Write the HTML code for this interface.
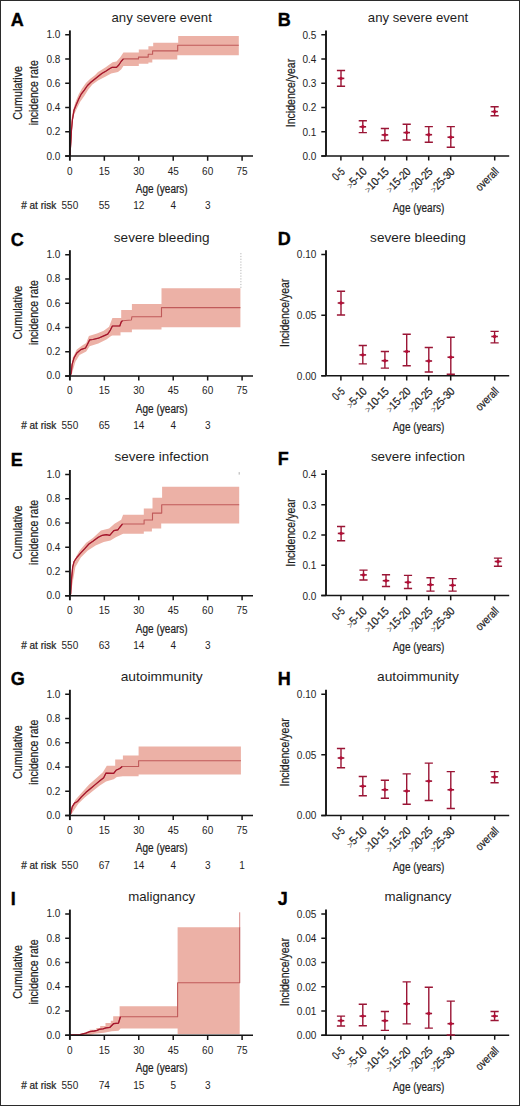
<!DOCTYPE html><html><head><meta charset="utf-8"><style>html,body{margin:0;padding:0;background:#fff;overflow:hidden;width:520px;height:1106px;}svg{display:block;font-family:"Liberation Sans",sans-serif;}.c{stroke:#1e1e1e;stroke-width:0.22px;}</style></head><body>
<svg width="520" height="1106" viewBox="0 0 520 1106">
<rect x="0" y="0" width="520" height="1106" fill="#fff"/>
<g fill="#1e1e1e">
<polygon points="69.9,156.1 70.2,140 71,122 72.9,110.7 75.3,102.5 78.6,94.4 81.8,88.7 85.9,83 90,79 94.9,75.3 98,71.9 100.5,70.5 105.7,67.3 109.5,64.6 112.6,62.3 116.5,61.5 120.3,57.3 123.4,52.5 123.4,52.5 138.8,52.5 138.8,49.4 148.4,49.4 148.4,46.3 153.2,46.3 153.2,42.7 178.2,42.7 178.2,36 238.8,36 238.8,55.2 177.3,55.2 177.3,59.5 152.3,59.5 152.3,62.4 148.4,62.4 148.4,63.8 138.8,63.8 138.8,66 123.4,66 123.4,66 121.1,69.6 118,71.9 111.1,73.5 105.7,76.5 98,80.4 92.4,84.6 88.3,89.5 84.3,96 80.2,101.7 77,108.2 73.7,115.6 72.5,122 71.3,140 69.9,156.1" fill="#ecb1a6"/>
<polyline points="69.9,156.1 70.3,150 70.8,143.2 71.5,130 72.5,119.3 74.1,109.9 76.1,105 78.6,99.3 81,94.4 84.3,90.1 87.5,85.5 90.8,82.3 94.9,79 98,76.5 101.8,73.5 105.7,71.2 109.5,68.8 112.2,67.3 116.5,67.3 118.8,65 121.1,61.5 123.4,58.9 123.4,58.9 138.5,58.9 138.5,57.1 148.2,57.1 148.2,54.3 152.6,54.3 152.6,50.9 177.7,50.9 177.7,45.3 238.8,45.3" fill="none" stroke="#c05a5a" stroke-width="1.1" stroke-linejoin="round"/>
<polyline points="69.9,156.1 70.3,150 70.8,143.2 71.5,130 72.5,119.3 74.1,109.9 76.1,105 78.6,99.3 81,94.4 84.3,90.1 87.5,85.5 90.8,82.3 94.9,79 98,76.5 101.8,73.5 105.7,71.2 109.5,68.8 112.2,67.3 116.5,67.3 118.8,65 121.1,61.5 123.4,58.9 123.4,58.9" fill="none" stroke="#a5152c" stroke-width="1.2" stroke-linejoin="round"/>
<text x="10.8" y="26" font-size="18" font-weight="bold" fill="#000" stroke="#000" stroke-width="0.35">A</text>
<text x="161.7" y="22.3" font-size="13.5" text-anchor="middle" textLength="100.3" lengthAdjust="spacingAndGlyphs">any severe event</text>
<path d="M69.9 30.4V160.7" stroke="#151515" stroke-width="1.9" fill="none"/>
<path d="M65.2 156.1H253" stroke="#151515" stroke-width="1.5" fill="none"/>
<path d="M65.2 156.1H69.9M65.2 131.85H69.9M65.2 107.6H69.9M65.2 83.35H69.9M65.2 59.1H69.9M65.2 34.85H69.9M104.34 156.1V160.7M138.78 156.1V160.7M173.22 156.1V160.7M207.66 156.1V160.7M242.1 156.1V160.7" stroke="#151515" stroke-width="1.5" fill="none"/>
<text x="60.3" y="159.5" font-size="10" text-anchor="end">0.0</text>
<text x="60.3" y="135.25" font-size="10" text-anchor="end">0.2</text>
<text x="60.3" y="111" font-size="10" text-anchor="end">0.4</text>
<text x="60.3" y="86.75" font-size="10" text-anchor="end">0.6</text>
<text x="60.3" y="62.5" font-size="10" text-anchor="end">0.8</text>
<text x="60.3" y="38.25" font-size="10" text-anchor="end">1.0</text>
<text x="69.9" y="174.5" font-size="10" text-anchor="middle">0</text>
<text x="104.34" y="174.5" font-size="10" text-anchor="middle">15</text>
<text x="138.78" y="174.5" font-size="10" text-anchor="middle">30</text>
<text x="173.22" y="174.5" font-size="10" text-anchor="middle">45</text>
<text x="207.66" y="174.5" font-size="10" text-anchor="middle">60</text>
<text x="242.1" y="174.5" font-size="10" text-anchor="middle">75</text>
<text x="161.75" y="192.9" font-size="12" text-anchor="middle" textLength="51.9" lengthAdjust="spacingAndGlyphs" class="c">Age (years)</text>
<text x="21.2" y="209.3" font-size="10" textLength="35" lengthAdjust="spacingAndGlyphs" class="c"># at risk</text>
<text x="69.9" y="209.3" font-size="10" text-anchor="middle">550</text>
<text x="104.34" y="209.3" font-size="10" text-anchor="middle">55</text>
<text x="138.78" y="209.3" font-size="10" text-anchor="middle">12</text>
<text x="173.22" y="209.3" font-size="10" text-anchor="middle">4</text>
<text x="207.66" y="209.3" font-size="10" text-anchor="middle">3</text>
<text transform="translate(21.9 92.8) rotate(-90)" class="c" font-size="12" text-anchor="middle" textLength="53.7" lengthAdjust="spacingAndGlyphs">Cumulative</text>
<text transform="translate(38.3 92.8) rotate(-90)" class="c" font-size="12" text-anchor="middle" textLength="65" lengthAdjust="spacingAndGlyphs">incidence rate</text>
<text x="277.8" y="25.6" font-size="18" font-weight="bold" fill="#000" stroke="#000" stroke-width="0.35">B</text>
<text x="418" y="22.3" font-size="13.5" text-anchor="middle" textLength="100.3" lengthAdjust="spacingAndGlyphs">any severe event</text>
<path d="M326 30.4V156" stroke="#151515" stroke-width="1.9" fill="none"/>
<path d="M321.3 156H509.2" stroke="#151515" stroke-width="1.5" fill="none"/>
<path d="M321.3 156H326M321.3 131.75H326M321.3 107.5H326M321.3 83.25H326M321.3 59H326M321.3 34.75H326M340.9 156V160.6M362.8 156V160.6M384.8 156V160.6M406.7 156V160.6M428.7 156V160.6M450.7 156V160.6M494.7 156V160.6" stroke="#151515" stroke-width="1.5" fill="none"/>
<text x="316.3" y="159.9" font-size="10" text-anchor="end">0.0</text>
<text x="316.3" y="135.65" font-size="10" text-anchor="end">0.1</text>
<text x="316.3" y="111.4" font-size="10" text-anchor="end">0.2</text>
<text x="316.3" y="87.15" font-size="10" text-anchor="end">0.3</text>
<text x="316.3" y="62.9" font-size="10" text-anchor="end">0.4</text>
<text x="316.3" y="38.65" font-size="10" text-anchor="end">0.5</text>
<text transform="translate(345.7 172.3) rotate(-45)" class="c" font-size="11.5" text-anchor="end" textLength="12.5" lengthAdjust="spacingAndGlyphs">0-5</text>
<text transform="translate(367.6 172.3) rotate(-45)" class="c" font-size="11.5" text-anchor="end" textLength="24" lengthAdjust="spacingAndGlyphs"><tspan font-size="9.5" fill="#555" stroke="none">&gt;</tspan>5-10</text>
<text transform="translate(389.6 172.3) rotate(-45)" class="c" font-size="11.5" text-anchor="end" textLength="30" lengthAdjust="spacingAndGlyphs"><tspan font-size="9.5" fill="#555" stroke="none">&gt;</tspan>10-15</text>
<text transform="translate(411.5 172.3) rotate(-45)" class="c" font-size="11.5" text-anchor="end" textLength="30" lengthAdjust="spacingAndGlyphs"><tspan font-size="9.5" fill="#555" stroke="none">&gt;</tspan>15-20</text>
<text transform="translate(433.5 172.3) rotate(-45)" class="c" font-size="11.5" text-anchor="end" textLength="30" lengthAdjust="spacingAndGlyphs"><tspan font-size="9.5" fill="#555" stroke="none">&gt;</tspan>20-25</text>
<text transform="translate(455.5 172.3) rotate(-45)" class="c" font-size="11.5" text-anchor="end" textLength="30" lengthAdjust="spacingAndGlyphs"><tspan font-size="9.5" fill="#555" stroke="none">&gt;</tspan>25-30</text>
<text transform="translate(499.5 172.3) rotate(-45)" class="c" font-size="11.5" text-anchor="end" textLength="27.5" lengthAdjust="spacingAndGlyphs">overall</text>
<text x="418.5" y="211.6" font-size="12" text-anchor="middle" textLength="51.7" lengthAdjust="spacingAndGlyphs" class="c">Age (years)</text>
<text transform="translate(294.6 93) rotate(-90)" class="c" font-size="12" text-anchor="middle" textLength="68.3" lengthAdjust="spacingAndGlyphs">Incidence/year</text>
<path d="M341 70.5V86.2M336.9 70.5H345.1M336.9 86.2H345.1" stroke="#9a1535" stroke-width="1.4" fill="none"/>
<path d="M337.7 78.4H344.3" stroke="#9a1535" stroke-width="1.6" fill="none"/>
<circle cx="341" cy="78.4" r="1.7" fill="#b50d36"/>
<path d="M362.8 120.8V132.6M358.7 120.8H366.9M358.7 132.6H366.9" stroke="#9a1535" stroke-width="1.4" fill="none"/>
<path d="M359.5 126.8H366.1" stroke="#9a1535" stroke-width="1.6" fill="none"/>
<circle cx="362.8" cy="126.8" r="1.7" fill="#b50d36"/>
<path d="M384.9 128.5V140.5M380.8 128.5H389M380.8 140.5H389" stroke="#9a1535" stroke-width="1.4" fill="none"/>
<path d="M381.6 134.9H388.2" stroke="#9a1535" stroke-width="1.6" fill="none"/>
<circle cx="384.9" cy="134.9" r="1.7" fill="#b50d36"/>
<path d="M406.7 124.3V140M402.6 124.3H410.8M402.6 140H410.8" stroke="#9a1535" stroke-width="1.4" fill="none"/>
<path d="M403.4 132.6H410" stroke="#9a1535" stroke-width="1.6" fill="none"/>
<circle cx="406.7" cy="132.6" r="1.7" fill="#b50d36"/>
<path d="M428.8 126.6V142.3M424.7 126.6H432.9M424.7 142.3H432.9" stroke="#9a1535" stroke-width="1.4" fill="none"/>
<path d="M425.5 134.7H432.1" stroke="#9a1535" stroke-width="1.6" fill="none"/>
<circle cx="428.8" cy="134.7" r="1.7" fill="#b50d36"/>
<path d="M450.8 126.6V147.2M446.7 126.6H454.9M446.7 147.2H454.9" stroke="#9a1535" stroke-width="1.4" fill="none"/>
<path d="M447.5 137.2H454.1" stroke="#9a1535" stroke-width="1.6" fill="none"/>
<circle cx="450.8" cy="137.2" r="1.7" fill="#b50d36"/>
<path d="M494.6 106.8V115.8M490.5 106.8H498.7M490.5 115.8H498.7" stroke="#9a1535" stroke-width="1.4" fill="none"/>
<path d="M491.3 111.6H497.9" stroke="#9a1535" stroke-width="1.6" fill="none"/>
<circle cx="494.6" cy="111.6" r="1.7" fill="#b50d36"/>
<path d="M240.9 253.1V288.2" stroke="#b5b5b5" stroke-width="1" stroke-dasharray="1.2 1.6" fill="none"/>
<polygon points="69.9,375.9 71.1,370.5 72.7,357.7 76.8,349.6 82.2,345.6 86.2,342.9 88.9,336.1 97,333.4 103.7,330.8 109.1,326.7 112.4,318 112.4,318 121.2,318 121.2,309.9 131.9,309.9 131.9,304.1 161.5,304.1 161.5,288.2 240.4,288.2 240.4,327.2 161.5,327.2 161.5,329.4 131.9,329.4 131.9,332.3 120.5,332.3 120.5,335.6 112.4,335.6 112.4,335.6 111.1,336.1 106.4,339.5 98.3,343.5 89.6,346.2 86.2,351.6 79.5,355 75.4,361.7 72.1,373 69.9,375.9" fill="#ecb1a6"/>
<polyline points="69.9,375.9 71.1,373.8 72.1,364.4 74.1,357.7 76.8,353 80.8,349.6 85.5,348 87.5,344.2 89.6,339.9 92.9,339.5 98.3,338.2 103.7,335.9 107.7,334.1 110.4,330.1 112.4,326 119.8,326 121.2,322 122.5,320.7 131.4,320 131.9,316.7 131.9,316.7 161.5,316.7 161.5,307.6 240.4,307.6" fill="none" stroke="#c05a5a" stroke-width="1.1" stroke-linejoin="round"/>
<polyline points="69.9,375.9 71.1,373.8 72.1,364.4 74.1,357.7 76.8,353 80.8,349.6 85.5,348 87.5,344.2 89.6,339.9 92.9,339.5 98.3,338.2 103.7,335.9 107.7,334.1 110.4,330.1 112.4,326 119.8,326 121.2,322 122.5,320.7" fill="none" stroke="#a5152c" stroke-width="1.2" stroke-linejoin="round"/>
<text x="10.8" y="245.8" font-size="18" font-weight="bold" fill="#000" stroke="#000" stroke-width="0.35">C</text>
<text x="161.7" y="241.85" font-size="13.5" text-anchor="middle" textLength="95.8" lengthAdjust="spacingAndGlyphs">severe bleeding</text>
<path d="M69.9 250.2V380.5" stroke="#151515" stroke-width="1.9" fill="none"/>
<path d="M65.2 375.9H253" stroke="#151515" stroke-width="1.5" fill="none"/>
<path d="M65.2 375.9H69.9M65.2 351.65H69.9M65.2 327.4H69.9M65.2 303.15H69.9M65.2 278.9H69.9M65.2 254.65H69.9M104.34 375.9V380.5M138.78 375.9V380.5M173.22 375.9V380.5M207.66 375.9V380.5M242.1 375.9V380.5" stroke="#151515" stroke-width="1.5" fill="none"/>
<text x="60.3" y="379.3" font-size="10" text-anchor="end">0.0</text>
<text x="60.3" y="355.05" font-size="10" text-anchor="end">0.2</text>
<text x="60.3" y="330.8" font-size="10" text-anchor="end">0.4</text>
<text x="60.3" y="306.55" font-size="10" text-anchor="end">0.6</text>
<text x="60.3" y="282.3" font-size="10" text-anchor="end">0.8</text>
<text x="60.3" y="258.05" font-size="10" text-anchor="end">1.0</text>
<text x="69.9" y="394.3" font-size="10" text-anchor="middle">0</text>
<text x="104.34" y="394.3" font-size="10" text-anchor="middle">15</text>
<text x="138.78" y="394.3" font-size="10" text-anchor="middle">30</text>
<text x="173.22" y="394.3" font-size="10" text-anchor="middle">45</text>
<text x="207.66" y="394.3" font-size="10" text-anchor="middle">60</text>
<text x="242.1" y="394.3" font-size="10" text-anchor="middle">75</text>
<text x="161.75" y="412.7" font-size="12" text-anchor="middle" textLength="51.9" lengthAdjust="spacingAndGlyphs" class="c">Age (years)</text>
<text x="21.2" y="429.1" font-size="10" textLength="35" lengthAdjust="spacingAndGlyphs" class="c"># at risk</text>
<text x="69.9" y="429.1" font-size="10" text-anchor="middle">550</text>
<text x="104.34" y="429.1" font-size="10" text-anchor="middle">65</text>
<text x="138.78" y="429.1" font-size="10" text-anchor="middle">14</text>
<text x="173.22" y="429.1" font-size="10" text-anchor="middle">4</text>
<text x="207.66" y="429.1" font-size="10" text-anchor="middle">3</text>
<text transform="translate(21.9 312.6) rotate(-90)" class="c" font-size="12" text-anchor="middle" textLength="53.7" lengthAdjust="spacingAndGlyphs">Cumulative</text>
<text transform="translate(38.3 312.6) rotate(-90)" class="c" font-size="12" text-anchor="middle" textLength="65" lengthAdjust="spacingAndGlyphs">incidence rate</text>
<text x="277.8" y="245.4" font-size="18" font-weight="bold" fill="#000" stroke="#000" stroke-width="0.35">D</text>
<text x="418" y="241.85" font-size="13.5" text-anchor="middle" textLength="95.8" lengthAdjust="spacingAndGlyphs">severe bleeding</text>
<path d="M326 250.2V375.8" stroke="#151515" stroke-width="1.9" fill="none"/>
<path d="M321.3 375.8H509.2" stroke="#151515" stroke-width="1.5" fill="none"/>
<path d="M321.3 375.8H326M321.3 315.17H326M321.3 254.55H326M340.9 375.8V380.4M362.8 375.8V380.4M384.8 375.8V380.4M406.7 375.8V380.4M428.7 375.8V380.4M450.7 375.8V380.4M494.7 375.8V380.4" stroke="#151515" stroke-width="1.5" fill="none"/>
<text x="316.3" y="379.7" font-size="10" text-anchor="end">0.00</text>
<text x="316.3" y="319.07" font-size="10" text-anchor="end">0.05</text>
<text x="316.3" y="258.45" font-size="10" text-anchor="end">0.10</text>
<text transform="translate(345.7 392.1) rotate(-45)" class="c" font-size="11.5" text-anchor="end" textLength="12.5" lengthAdjust="spacingAndGlyphs">0-5</text>
<text transform="translate(367.6 392.1) rotate(-45)" class="c" font-size="11.5" text-anchor="end" textLength="24" lengthAdjust="spacingAndGlyphs"><tspan font-size="9.5" fill="#555" stroke="none">&gt;</tspan>5-10</text>
<text transform="translate(389.6 392.1) rotate(-45)" class="c" font-size="11.5" text-anchor="end" textLength="30" lengthAdjust="spacingAndGlyphs"><tspan font-size="9.5" fill="#555" stroke="none">&gt;</tspan>10-15</text>
<text transform="translate(411.5 392.1) rotate(-45)" class="c" font-size="11.5" text-anchor="end" textLength="30" lengthAdjust="spacingAndGlyphs"><tspan font-size="9.5" fill="#555" stroke="none">&gt;</tspan>15-20</text>
<text transform="translate(433.5 392.1) rotate(-45)" class="c" font-size="11.5" text-anchor="end" textLength="30" lengthAdjust="spacingAndGlyphs"><tspan font-size="9.5" fill="#555" stroke="none">&gt;</tspan>20-25</text>
<text transform="translate(455.5 392.1) rotate(-45)" class="c" font-size="11.5" text-anchor="end" textLength="30" lengthAdjust="spacingAndGlyphs"><tspan font-size="9.5" fill="#555" stroke="none">&gt;</tspan>25-30</text>
<text transform="translate(499.5 392.1) rotate(-45)" class="c" font-size="11.5" text-anchor="end" textLength="27.5" lengthAdjust="spacingAndGlyphs">overall</text>
<text x="418.5" y="431.4" font-size="12" text-anchor="middle" textLength="51.7" lengthAdjust="spacingAndGlyphs" class="c">Age (years)</text>
<text transform="translate(288.6 312.8) rotate(-90)" class="c" font-size="12" text-anchor="middle" textLength="68.3" lengthAdjust="spacingAndGlyphs">Incidence/year</text>
<path d="M341 291.2V315M336.9 291.2H345.1M336.9 315H345.1" stroke="#9a1535" stroke-width="1.4" fill="none"/>
<path d="M337.7 303H344.3" stroke="#9a1535" stroke-width="1.6" fill="none"/>
<circle cx="341" cy="303" r="1.7" fill="#b50d36"/>
<path d="M362.8 345.5V363.9M358.7 345.5H366.9M358.7 363.9H366.9" stroke="#9a1535" stroke-width="1.4" fill="none"/>
<path d="M359.5 354.9H366.1" stroke="#9a1535" stroke-width="1.6" fill="none"/>
<circle cx="362.8" cy="354.9" r="1.7" fill="#b50d36"/>
<path d="M384.9 351.5V368.1M380.8 351.5H389M380.8 368.1H389" stroke="#9a1535" stroke-width="1.4" fill="none"/>
<path d="M381.6 360.7H388.2" stroke="#9a1535" stroke-width="1.6" fill="none"/>
<circle cx="384.9" cy="360.7" r="1.7" fill="#b50d36"/>
<path d="M406.7 334.2V365.8M402.6 334.2H410.8M402.6 365.8H410.8" stroke="#9a1535" stroke-width="1.4" fill="none"/>
<path d="M403.4 351.5H410" stroke="#9a1535" stroke-width="1.6" fill="none"/>
<circle cx="406.7" cy="351.5" r="1.7" fill="#b50d36"/>
<path d="M428.8 347.5V372M424.7 347.5H432.9M424.7 372H432.9" stroke="#9a1535" stroke-width="1.4" fill="none"/>
<path d="M425.5 361H432.1" stroke="#9a1535" stroke-width="1.6" fill="none"/>
<circle cx="428.8" cy="361" r="1.7" fill="#b50d36"/>
<path d="M450.8 337.2V374.3M446.7 337.2H454.9M446.7 374.3H454.9" stroke="#9a1535" stroke-width="1.4" fill="none"/>
<path d="M447.5 357.2H454.1" stroke="#9a1535" stroke-width="1.6" fill="none"/>
<circle cx="450.8" cy="357.2" r="1.7" fill="#b50d36"/>
<path d="M494.6 331.4V342.9M490.5 331.4H498.7M490.5 342.9H498.7" stroke="#9a1535" stroke-width="1.4" fill="none"/>
<path d="M491.3 336.5H497.9" stroke="#9a1535" stroke-width="1.6" fill="none"/>
<circle cx="494.6" cy="336.5" r="1.7" fill="#b50d36"/>
<path d="M239.2 472.1V474.6" stroke="#999" stroke-width="0.8" fill="none"/>
<polygon points="69.9,595.7 70.6,587.6 71.4,575 74.1,560.2 79.5,550.7 86.2,542.7 92.9,538 101,530.6 109.1,528.5 114.5,523.8 121.2,519.8 123.1,514.8 123.1,514.8 143.8,514.8 143.8,508.4 152.5,508.4 152.5,497.8 162.1,497.8 162.1,486.8 239.2,486.8 239.2,523.4 161.2,523.4 161.2,528.6 151.9,528.6 151.9,531.5 143.8,531.5 143.8,533.8 123.1,533.8 123.1,533.8 115.8,537.3 110.4,540.6 103.7,542 95.6,545.4 87.5,550.7 80.8,557.5 75.4,566.9 72.1,585.7 69.9,595.7" fill="#ecb1a6"/>
<polyline points="69.9,595.7 70.7,593.8 71.4,580.4 72.7,566.9 74.1,561.5 76.8,557.5 80.8,552.8 84.8,548.7 88.9,544 92.9,541.3 98.3,537.3 102.3,535.3 106.4,534.6 109.7,535.3 113.8,530.6 117.8,529.9 119.6,527.5 122.5,524 122.5,524 144.1,524 144.1,520 152.5,520 152.5,513.1 161.7,513.1 161.7,504.8 239.2,504.8" fill="none" stroke="#c05a5a" stroke-width="1.1" stroke-linejoin="round"/>
<polyline points="69.9,595.7 70.7,593.8 71.4,580.4 72.7,566.9 74.1,561.5 76.8,557.5 80.8,552.8 84.8,548.7 88.9,544 92.9,541.3 98.3,537.3 102.3,535.3 106.4,534.6 109.7,535.3 113.8,530.6 117.8,529.9 119.6,527.5 122.5,524 122.5,524" fill="none" stroke="#a5152c" stroke-width="1.2" stroke-linejoin="round"/>
<text x="10.8" y="465.6" font-size="18" font-weight="bold" fill="#000" stroke="#000" stroke-width="0.35">E</text>
<text x="161.7" y="461.4" font-size="13.5" text-anchor="middle" textLength="94.2" lengthAdjust="spacingAndGlyphs">severe infection</text>
<path d="M69.9 470V600.3" stroke="#151515" stroke-width="1.9" fill="none"/>
<path d="M65.2 595.7H253" stroke="#151515" stroke-width="1.5" fill="none"/>
<path d="M65.2 595.7H69.9M65.2 571.45H69.9M65.2 547.2H69.9M65.2 522.95H69.9M65.2 498.7H69.9M65.2 474.45H69.9M104.34 595.7V600.3M138.78 595.7V600.3M173.22 595.7V600.3M207.66 595.7V600.3M242.1 595.7V600.3" stroke="#151515" stroke-width="1.5" fill="none"/>
<text x="60.3" y="599.1" font-size="10" text-anchor="end">0.0</text>
<text x="60.3" y="574.85" font-size="10" text-anchor="end">0.2</text>
<text x="60.3" y="550.6" font-size="10" text-anchor="end">0.4</text>
<text x="60.3" y="526.35" font-size="10" text-anchor="end">0.6</text>
<text x="60.3" y="502.1" font-size="10" text-anchor="end">0.8</text>
<text x="60.3" y="477.85" font-size="10" text-anchor="end">1.0</text>
<text x="69.9" y="614.1" font-size="10" text-anchor="middle">0</text>
<text x="104.34" y="614.1" font-size="10" text-anchor="middle">15</text>
<text x="138.78" y="614.1" font-size="10" text-anchor="middle">30</text>
<text x="173.22" y="614.1" font-size="10" text-anchor="middle">45</text>
<text x="207.66" y="614.1" font-size="10" text-anchor="middle">60</text>
<text x="242.1" y="614.1" font-size="10" text-anchor="middle">75</text>
<text x="161.75" y="632.5" font-size="12" text-anchor="middle" textLength="51.9" lengthAdjust="spacingAndGlyphs" class="c">Age (years)</text>
<text x="21.2" y="648.9" font-size="10" textLength="35" lengthAdjust="spacingAndGlyphs" class="c"># at risk</text>
<text x="69.9" y="648.9" font-size="10" text-anchor="middle">550</text>
<text x="104.34" y="648.9" font-size="10" text-anchor="middle">63</text>
<text x="138.78" y="648.9" font-size="10" text-anchor="middle">14</text>
<text x="173.22" y="648.9" font-size="10" text-anchor="middle">4</text>
<text x="207.66" y="648.9" font-size="10" text-anchor="middle">3</text>
<text transform="translate(21.9 532.4) rotate(-90)" class="c" font-size="12" text-anchor="middle" textLength="53.7" lengthAdjust="spacingAndGlyphs">Cumulative</text>
<text transform="translate(38.3 532.4) rotate(-90)" class="c" font-size="12" text-anchor="middle" textLength="65" lengthAdjust="spacingAndGlyphs">incidence rate</text>
<text x="277.8" y="465.2" font-size="18" font-weight="bold" fill="#000" stroke="#000" stroke-width="0.35">F</text>
<text x="418" y="461.4" font-size="13.5" text-anchor="middle" textLength="94.2" lengthAdjust="spacingAndGlyphs">severe infection</text>
<path d="M326 470V595.6" stroke="#151515" stroke-width="1.9" fill="none"/>
<path d="M321.3 595.6H509.2" stroke="#151515" stroke-width="1.5" fill="none"/>
<path d="M321.3 595.6H326M321.3 565.29H326M321.3 534.98H326M321.3 504.66H326M321.3 474.35H326M340.9 595.6V600.2M362.8 595.6V600.2M384.8 595.6V600.2M406.7 595.6V600.2M428.7 595.6V600.2M450.7 595.6V600.2M494.7 595.6V600.2" stroke="#151515" stroke-width="1.5" fill="none"/>
<text x="316.3" y="599.5" font-size="10" text-anchor="end">0.0</text>
<text x="316.3" y="569.19" font-size="10" text-anchor="end">0.1</text>
<text x="316.3" y="538.88" font-size="10" text-anchor="end">0.2</text>
<text x="316.3" y="508.56" font-size="10" text-anchor="end">0.3</text>
<text x="316.3" y="478.25" font-size="10" text-anchor="end">0.4</text>
<text transform="translate(345.7 611.9) rotate(-45)" class="c" font-size="11.5" text-anchor="end" textLength="12.5" lengthAdjust="spacingAndGlyphs">0-5</text>
<text transform="translate(367.6 611.9) rotate(-45)" class="c" font-size="11.5" text-anchor="end" textLength="24" lengthAdjust="spacingAndGlyphs"><tspan font-size="9.5" fill="#555" stroke="none">&gt;</tspan>5-10</text>
<text transform="translate(389.6 611.9) rotate(-45)" class="c" font-size="11.5" text-anchor="end" textLength="30" lengthAdjust="spacingAndGlyphs"><tspan font-size="9.5" fill="#555" stroke="none">&gt;</tspan>10-15</text>
<text transform="translate(411.5 611.9) rotate(-45)" class="c" font-size="11.5" text-anchor="end" textLength="30" lengthAdjust="spacingAndGlyphs"><tspan font-size="9.5" fill="#555" stroke="none">&gt;</tspan>15-20</text>
<text transform="translate(433.5 611.9) rotate(-45)" class="c" font-size="11.5" text-anchor="end" textLength="30" lengthAdjust="spacingAndGlyphs"><tspan font-size="9.5" fill="#555" stroke="none">&gt;</tspan>20-25</text>
<text transform="translate(455.5 611.9) rotate(-45)" class="c" font-size="11.5" text-anchor="end" textLength="30" lengthAdjust="spacingAndGlyphs"><tspan font-size="9.5" fill="#555" stroke="none">&gt;</tspan>25-30</text>
<text transform="translate(499.5 611.9) rotate(-45)" class="c" font-size="11.5" text-anchor="end" textLength="27.5" lengthAdjust="spacingAndGlyphs">overall</text>
<text x="418.5" y="651.2" font-size="12" text-anchor="middle" textLength="51.7" lengthAdjust="spacingAndGlyphs" class="c">Age (years)</text>
<text transform="translate(294.6 532.6) rotate(-90)" class="c" font-size="12" text-anchor="middle" textLength="68.3" lengthAdjust="spacingAndGlyphs">Incidence/year</text>
<path d="M341.1 526.5V540.8M337 526.5H345.2M337 540.8H345.2" stroke="#9a1535" stroke-width="1.4" fill="none"/>
<path d="M337.8 533.4H344.4" stroke="#9a1535" stroke-width="1.6" fill="none"/>
<circle cx="341.1" cy="533.4" r="1.7" fill="#b50d36"/>
<path d="M363.5 570.1V580M359.4 570.1H367.6M359.4 580H367.6" stroke="#9a1535" stroke-width="1.4" fill="none"/>
<path d="M360.2 574.9H366.8" stroke="#9a1535" stroke-width="1.6" fill="none"/>
<circle cx="363.5" cy="574.9" r="1.7" fill="#b50d36"/>
<path d="M386 574.7V586.5M381.9 574.7H390.1M381.9 586.5H390.1" stroke="#9a1535" stroke-width="1.4" fill="none"/>
<path d="M382.7 580.7H389.3" stroke="#9a1535" stroke-width="1.6" fill="none"/>
<circle cx="386" cy="580.7" r="1.7" fill="#b50d36"/>
<path d="M408 575.4V588.5M403.9 575.4H412.1M403.9 588.5H412.1" stroke="#9a1535" stroke-width="1.4" fill="none"/>
<path d="M404.7 582.3H411.3" stroke="#9a1535" stroke-width="1.6" fill="none"/>
<circle cx="408" cy="582.3" r="1.7" fill="#b50d36"/>
<path d="M430.5 577.7V591.1M426.4 577.7H434.6M426.4 591.1H434.6" stroke="#9a1535" stroke-width="1.4" fill="none"/>
<path d="M427.2 584.8H433.8" stroke="#9a1535" stroke-width="1.6" fill="none"/>
<circle cx="430.5" cy="584.8" r="1.7" fill="#b50d36"/>
<path d="M452.6 578.6V591.1M448.5 578.6H456.7M448.5 591.1H456.7" stroke="#9a1535" stroke-width="1.4" fill="none"/>
<path d="M449.3 585.3H455.9" stroke="#9a1535" stroke-width="1.6" fill="none"/>
<circle cx="452.6" cy="585.3" r="1.7" fill="#b50d36"/>
<path d="M498 558.1V566.2M493.9 558.1H502.1M493.9 566.2H502.1" stroke="#9a1535" stroke-width="1.4" fill="none"/>
<path d="M494.7 561.5H501.3" stroke="#9a1535" stroke-width="1.6" fill="none"/>
<circle cx="498" cy="561.5" r="1.7" fill="#b50d36"/>
<polygon points="69.9,815.5 70.6,810 75.2,800 81.4,793.1 89.1,784.6 96.8,777.7 102.9,772.3 106.8,765.7 106.8,765.7 115.2,765.7 115.2,759.5 122.9,759.5 122.9,755.4 138.6,755.4 138.6,746.6 240.9,746.6 240.9,774.5 138.6,774.5 138.6,776.2 122.9,776.2 122.9,776.2 116.8,776.9 113.7,779.2 106,781.5 99.8,785.4 92.2,791.5 84.5,797.7 78.3,803.8 72.2,813.1 69.9,815.5" fill="#ecb1a6"/>
<polyline points="69.9,815.5 70.6,813.8 72.2,806.9 74.5,803.1 77.5,801.5 81.4,796.9 86,792.3 90.6,788.5 95.2,784.6 99.8,780.8 103.7,777.7 106,773.1 113.7,773.4 116,770.3 119.8,768.5 122.2,766.5 122.2,766.5 138.6,766.5 138.6,760.7 240.9,760.7" fill="none" stroke="#c05a5a" stroke-width="1.1" stroke-linejoin="round"/>
<polyline points="69.9,815.5 70.6,813.8 72.2,806.9 74.5,803.1 77.5,801.5 81.4,796.9 86,792.3 90.6,788.5 95.2,784.6 99.8,780.8 103.7,777.7 106,773.1 113.7,773.4 116,770.3 119.8,768.5 122.2,766.5 122.2,766.5" fill="none" stroke="#a5152c" stroke-width="1.2" stroke-linejoin="round"/>
<text x="10.8" y="685.4" font-size="18" font-weight="bold" fill="#000" stroke="#000" stroke-width="0.35">G</text>
<text x="161.7" y="680.95" font-size="13.5" text-anchor="middle" textLength="82" lengthAdjust="spacingAndGlyphs">autoimmunity</text>
<path d="M69.9 689.8V820.1" stroke="#151515" stroke-width="1.9" fill="none"/>
<path d="M65.2 815.5H253" stroke="#151515" stroke-width="1.5" fill="none"/>
<path d="M65.2 815.5H69.9M65.2 791.25H69.9M65.2 767H69.9M65.2 742.75H69.9M65.2 718.5H69.9M65.2 694.25H69.9M104.34 815.5V820.1M138.78 815.5V820.1M173.22 815.5V820.1M207.66 815.5V820.1M242.1 815.5V820.1" stroke="#151515" stroke-width="1.5" fill="none"/>
<text x="60.3" y="818.9" font-size="10" text-anchor="end">0.0</text>
<text x="60.3" y="794.65" font-size="10" text-anchor="end">0.2</text>
<text x="60.3" y="770.4" font-size="10" text-anchor="end">0.4</text>
<text x="60.3" y="746.15" font-size="10" text-anchor="end">0.6</text>
<text x="60.3" y="721.9" font-size="10" text-anchor="end">0.8</text>
<text x="60.3" y="697.65" font-size="10" text-anchor="end">1.0</text>
<text x="69.9" y="833.9" font-size="10" text-anchor="middle">0</text>
<text x="104.34" y="833.9" font-size="10" text-anchor="middle">15</text>
<text x="138.78" y="833.9" font-size="10" text-anchor="middle">30</text>
<text x="173.22" y="833.9" font-size="10" text-anchor="middle">45</text>
<text x="207.66" y="833.9" font-size="10" text-anchor="middle">60</text>
<text x="242.1" y="833.9" font-size="10" text-anchor="middle">75</text>
<text x="161.75" y="852.3" font-size="12" text-anchor="middle" textLength="51.9" lengthAdjust="spacingAndGlyphs" class="c">Age (years)</text>
<text x="21.2" y="868.7" font-size="10" textLength="35" lengthAdjust="spacingAndGlyphs" class="c"># at risk</text>
<text x="69.9" y="868.7" font-size="10" text-anchor="middle">550</text>
<text x="104.34" y="868.7" font-size="10" text-anchor="middle">67</text>
<text x="138.78" y="868.7" font-size="10" text-anchor="middle">14</text>
<text x="173.22" y="868.7" font-size="10" text-anchor="middle">4</text>
<text x="207.66" y="868.7" font-size="10" text-anchor="middle">3</text>
<text x="242.1" y="868.7" font-size="10" text-anchor="middle">1</text>
<text transform="translate(21.9 752.2) rotate(-90)" class="c" font-size="12" text-anchor="middle" textLength="53.7" lengthAdjust="spacingAndGlyphs">Cumulative</text>
<text transform="translate(38.3 752.2) rotate(-90)" class="c" font-size="12" text-anchor="middle" textLength="65" lengthAdjust="spacingAndGlyphs">incidence rate</text>
<text x="277.8" y="685" font-size="18" font-weight="bold" fill="#000" stroke="#000" stroke-width="0.35">H</text>
<text x="418" y="680.95" font-size="13.5" text-anchor="middle" textLength="82" lengthAdjust="spacingAndGlyphs">autoimmunity</text>
<path d="M326 689.8V815.4" stroke="#151515" stroke-width="1.9" fill="none"/>
<path d="M321.3 815.4H509.2" stroke="#151515" stroke-width="1.5" fill="none"/>
<path d="M321.3 815.4H326M321.3 754.78H326M321.3 694.15H326M340.9 815.4V820M362.8 815.4V820M384.8 815.4V820M406.7 815.4V820M428.7 815.4V820M450.7 815.4V820M494.7 815.4V820" stroke="#151515" stroke-width="1.5" fill="none"/>
<text x="316.3" y="819.3" font-size="10" text-anchor="end">0.00</text>
<text x="316.3" y="758.68" font-size="10" text-anchor="end">0.05</text>
<text x="316.3" y="698.05" font-size="10" text-anchor="end">0.10</text>
<text transform="translate(345.7 831.7) rotate(-45)" class="c" font-size="11.5" text-anchor="end" textLength="12.5" lengthAdjust="spacingAndGlyphs">0-5</text>
<text transform="translate(367.6 831.7) rotate(-45)" class="c" font-size="11.5" text-anchor="end" textLength="24" lengthAdjust="spacingAndGlyphs"><tspan font-size="9.5" fill="#555" stroke="none">&gt;</tspan>5-10</text>
<text transform="translate(389.6 831.7) rotate(-45)" class="c" font-size="11.5" text-anchor="end" textLength="30" lengthAdjust="spacingAndGlyphs"><tspan font-size="9.5" fill="#555" stroke="none">&gt;</tspan>10-15</text>
<text transform="translate(411.5 831.7) rotate(-45)" class="c" font-size="11.5" text-anchor="end" textLength="30" lengthAdjust="spacingAndGlyphs"><tspan font-size="9.5" fill="#555" stroke="none">&gt;</tspan>15-20</text>
<text transform="translate(433.5 831.7) rotate(-45)" class="c" font-size="11.5" text-anchor="end" textLength="30" lengthAdjust="spacingAndGlyphs"><tspan font-size="9.5" fill="#555" stroke="none">&gt;</tspan>20-25</text>
<text transform="translate(455.5 831.7) rotate(-45)" class="c" font-size="11.5" text-anchor="end" textLength="30" lengthAdjust="spacingAndGlyphs"><tspan font-size="9.5" fill="#555" stroke="none">&gt;</tspan>25-30</text>
<text transform="translate(499.5 831.7) rotate(-45)" class="c" font-size="11.5" text-anchor="end" textLength="27.5" lengthAdjust="spacingAndGlyphs">overall</text>
<text x="418.5" y="871" font-size="12" text-anchor="middle" textLength="51.7" lengthAdjust="spacingAndGlyphs" class="c">Age (years)</text>
<text transform="translate(288.6 752.4) rotate(-90)" class="c" font-size="12" text-anchor="middle" textLength="68.3" lengthAdjust="spacingAndGlyphs">Incidence/year</text>
<path d="M341 748.5V767.7M336.9 748.5H345.1M336.9 767.7H345.1" stroke="#9a1535" stroke-width="1.4" fill="none"/>
<path d="M337.7 758H344.3" stroke="#9a1535" stroke-width="1.6" fill="none"/>
<circle cx="341" cy="758" r="1.7" fill="#b50d36"/>
<path d="M362.8 776.5V795.8M358.7 776.5H366.9M358.7 795.8H366.9" stroke="#9a1535" stroke-width="1.4" fill="none"/>
<path d="M359.5 786.2H366.1" stroke="#9a1535" stroke-width="1.6" fill="none"/>
<circle cx="362.8" cy="786.2" r="1.7" fill="#b50d36"/>
<path d="M384.9 780.2V798.2M380.8 780.2H389M380.8 798.2H389" stroke="#9a1535" stroke-width="1.4" fill="none"/>
<path d="M381.6 789.8H388.2" stroke="#9a1535" stroke-width="1.6" fill="none"/>
<circle cx="384.9" cy="789.8" r="1.7" fill="#b50d36"/>
<path d="M406.7 773.9V804.2M402.6 773.9H410.8M402.6 804.2H410.8" stroke="#9a1535" stroke-width="1.4" fill="none"/>
<path d="M403.4 791H410" stroke="#9a1535" stroke-width="1.6" fill="none"/>
<circle cx="406.7" cy="791" r="1.7" fill="#b50d36"/>
<path d="M428.8 763.1V800.5M424.7 763.1H432.9M424.7 800.5H432.9" stroke="#9a1535" stroke-width="1.4" fill="none"/>
<path d="M425.5 781.1H432.1" stroke="#9a1535" stroke-width="1.6" fill="none"/>
<circle cx="428.8" cy="781.1" r="1.7" fill="#b50d36"/>
<path d="M450.8 771.6V808.5M446.7 771.6H454.9M446.7 808.5H454.9" stroke="#9a1535" stroke-width="1.4" fill="none"/>
<path d="M447.5 789.8H454.1" stroke="#9a1535" stroke-width="1.6" fill="none"/>
<circle cx="450.8" cy="789.8" r="1.7" fill="#b50d36"/>
<path d="M494.6 771.6V782.7M490.5 771.6H498.7M490.5 782.7H498.7" stroke="#9a1535" stroke-width="1.4" fill="none"/>
<path d="M491.3 776.9H497.9" stroke="#9a1535" stroke-width="1.6" fill="none"/>
<circle cx="494.6" cy="776.9" r="1.7" fill="#b50d36"/>
<path d="M239.7 912.3V927.7" stroke="#d98a88" stroke-width="1" fill="none"/>
<polygon points="69.9,1035.3 80,1034.8 86.7,1031.7 89.6,1031.7 89.6,1029.8 96.3,1029.8 96.3,1027.9 100.2,1027.9 100.2,1026 105.5,1026 105.5,1023.1 110.8,1023.1 110.8,1020.7 113.2,1020.7 113.2,1016.3 119.6,1016.3 119.6,1006.3 119.6,1006.3 177.6,1006.3 177.6,927.3 239.7,927.3 239.7,1034 177.6,1034 177.6,1028.6 120.4,1028.6 120.4,1028.8 118.5,1030.8 111.7,1031.3 104,1032.7 94.4,1033.7 90,1035 69.9,1035.3" fill="#ecb1a6"/>
<polyline points="69.9,1035 80,1034.6 85.8,1033.2 89.6,1031.7 94.4,1031 97.3,1030.3 99.2,1029.3 103.1,1028.8 106,1027.9 109.8,1027.4 111.7,1025.5 113.7,1023.6 118.5,1023.1 120.4,1016.8 120.4,1016.8 177.6,1016.8 177.6,982.7 239.7,982.7 239.7,927.3" fill="none" stroke="#c05a5a" stroke-width="1.1" stroke-linejoin="round"/>
<polyline points="69.9,1035 80,1034.6 85.8,1033.2 89.6,1031.7 94.4,1031 97.3,1030.3 99.2,1029.3 103.1,1028.8 106,1027.9 109.8,1027.4 111.7,1025.5 113.7,1023.6 118.5,1023.1 120.4,1016.8 120.4,1016.8" fill="none" stroke="#a5152c" stroke-width="1.35" stroke-linejoin="round"/>
<text x="10.8" y="905.2" font-size="18" font-weight="bold" fill="#000" stroke="#000" stroke-width="0.35">I</text>
<text x="161.7" y="900.5" font-size="13.5" text-anchor="middle" textLength="66.9" lengthAdjust="spacingAndGlyphs">malignancy</text>
<path d="M69.9 909.6V1039.9" stroke="#151515" stroke-width="1.9" fill="none"/>
<path d="M65.2 1035.3H253" stroke="#151515" stroke-width="1.5" fill="none"/>
<path d="M65.2 1035.3H69.9M65.2 1011.05H69.9M65.2 986.8H69.9M65.2 962.55H69.9M65.2 938.3H69.9M65.2 914.05H69.9M104.34 1035.3V1039.9M138.78 1035.3V1039.9M173.22 1035.3V1039.9M207.66 1035.3V1039.9M242.1 1035.3V1039.9" stroke="#151515" stroke-width="1.5" fill="none"/>
<text x="60.3" y="1038.7" font-size="10" text-anchor="end">0.0</text>
<text x="60.3" y="1014.45" font-size="10" text-anchor="end">0.2</text>
<text x="60.3" y="990.2" font-size="10" text-anchor="end">0.4</text>
<text x="60.3" y="965.95" font-size="10" text-anchor="end">0.6</text>
<text x="60.3" y="941.7" font-size="10" text-anchor="end">0.8</text>
<text x="60.3" y="917.45" font-size="10" text-anchor="end">1.0</text>
<text x="69.9" y="1053.7" font-size="10" text-anchor="middle">0</text>
<text x="104.34" y="1053.7" font-size="10" text-anchor="middle">15</text>
<text x="138.78" y="1053.7" font-size="10" text-anchor="middle">30</text>
<text x="173.22" y="1053.7" font-size="10" text-anchor="middle">45</text>
<text x="207.66" y="1053.7" font-size="10" text-anchor="middle">60</text>
<text x="242.1" y="1053.7" font-size="10" text-anchor="middle">75</text>
<text x="161.75" y="1072.1" font-size="12" text-anchor="middle" textLength="51.9" lengthAdjust="spacingAndGlyphs" class="c">Age (years)</text>
<text x="21.2" y="1088.5" font-size="10" textLength="35" lengthAdjust="spacingAndGlyphs" class="c"># at risk</text>
<text x="69.9" y="1088.5" font-size="10" text-anchor="middle">550</text>
<text x="104.34" y="1088.5" font-size="10" text-anchor="middle">74</text>
<text x="138.78" y="1088.5" font-size="10" text-anchor="middle">15</text>
<text x="173.22" y="1088.5" font-size="10" text-anchor="middle">5</text>
<text x="207.66" y="1088.5" font-size="10" text-anchor="middle">3</text>
<text transform="translate(21.9 972) rotate(-90)" class="c" font-size="12" text-anchor="middle" textLength="53.7" lengthAdjust="spacingAndGlyphs">Cumulative</text>
<text transform="translate(38.3 972) rotate(-90)" class="c" font-size="12" text-anchor="middle" textLength="65" lengthAdjust="spacingAndGlyphs">incidence rate</text>
<text x="277.8" y="904.8" font-size="18" font-weight="bold" fill="#000" stroke="#000" stroke-width="0.35">J</text>
<text x="418" y="900.5" font-size="13.5" text-anchor="middle" textLength="66.9" lengthAdjust="spacingAndGlyphs">malignancy</text>
<path d="M326 909.6V1035.2" stroke="#151515" stroke-width="1.9" fill="none"/>
<path d="M321.3 1035.2H509.2" stroke="#151515" stroke-width="1.5" fill="none"/>
<path d="M321.3 1035.2H326M321.3 1010.95H326M321.3 986.7H326M321.3 962.45H326M321.3 938.2H326M321.3 913.95H326M340.9 1035.2V1039.8M362.8 1035.2V1039.8M384.8 1035.2V1039.8M406.7 1035.2V1039.8M428.7 1035.2V1039.8M450.7 1035.2V1039.8M494.7 1035.2V1039.8" stroke="#151515" stroke-width="1.5" fill="none"/>
<text x="316.3" y="1039.1" font-size="10" text-anchor="end">0.00</text>
<text x="316.3" y="1014.85" font-size="10" text-anchor="end">0.01</text>
<text x="316.3" y="990.6" font-size="10" text-anchor="end">0.02</text>
<text x="316.3" y="966.35" font-size="10" text-anchor="end">0.03</text>
<text x="316.3" y="942.1" font-size="10" text-anchor="end">0.04</text>
<text x="316.3" y="917.85" font-size="10" text-anchor="end">0.05</text>
<text transform="translate(345.7 1051.5) rotate(-45)" class="c" font-size="11.5" text-anchor="end" textLength="12.5" lengthAdjust="spacingAndGlyphs">0-5</text>
<text transform="translate(367.6 1051.5) rotate(-45)" class="c" font-size="11.5" text-anchor="end" textLength="24" lengthAdjust="spacingAndGlyphs"><tspan font-size="9.5" fill="#555" stroke="none">&gt;</tspan>5-10</text>
<text transform="translate(389.6 1051.5) rotate(-45)" class="c" font-size="11.5" text-anchor="end" textLength="30" lengthAdjust="spacingAndGlyphs"><tspan font-size="9.5" fill="#555" stroke="none">&gt;</tspan>10-15</text>
<text transform="translate(411.5 1051.5) rotate(-45)" class="c" font-size="11.5" text-anchor="end" textLength="30" lengthAdjust="spacingAndGlyphs"><tspan font-size="9.5" fill="#555" stroke="none">&gt;</tspan>15-20</text>
<text transform="translate(433.5 1051.5) rotate(-45)" class="c" font-size="11.5" text-anchor="end" textLength="30" lengthAdjust="spacingAndGlyphs"><tspan font-size="9.5" fill="#555" stroke="none">&gt;</tspan>20-25</text>
<text transform="translate(455.5 1051.5) rotate(-45)" class="c" font-size="11.5" text-anchor="end" textLength="30" lengthAdjust="spacingAndGlyphs"><tspan font-size="9.5" fill="#555" stroke="none">&gt;</tspan>25-30</text>
<text transform="translate(499.5 1051.5) rotate(-45)" class="c" font-size="11.5" text-anchor="end" textLength="27.5" lengthAdjust="spacingAndGlyphs">overall</text>
<text x="418.5" y="1090.8" font-size="12" text-anchor="middle" textLength="51.7" lengthAdjust="spacingAndGlyphs" class="c">Age (years)</text>
<text transform="translate(288.6 972.2) rotate(-90)" class="c" font-size="12" text-anchor="middle" textLength="68.3" lengthAdjust="spacingAndGlyphs">Incidence/year</text>
<path d="M341 1016.1V1026M336.9 1016.1H345.1M336.9 1026H345.1" stroke="#9a1535" stroke-width="1.4" fill="none"/>
<path d="M337.7 1020.7H344.3" stroke="#9a1535" stroke-width="1.6" fill="none"/>
<circle cx="341" cy="1020.7" r="1.7" fill="#b50d36"/>
<path d="M362.8 1004.3V1025.8M358.7 1004.3H366.9M358.7 1025.8H366.9" stroke="#9a1535" stroke-width="1.4" fill="none"/>
<path d="M359.5 1016.1H366.1" stroke="#9a1535" stroke-width="1.6" fill="none"/>
<circle cx="362.8" cy="1016.1" r="1.7" fill="#b50d36"/>
<path d="M384.9 1011.5V1030.4M380.8 1011.5H389M380.8 1030.4H389" stroke="#9a1535" stroke-width="1.4" fill="none"/>
<path d="M381.6 1020.7H388.2" stroke="#9a1535" stroke-width="1.6" fill="none"/>
<circle cx="384.9" cy="1020.7" r="1.7" fill="#b50d36"/>
<path d="M406.7 981.9V1023.9M402.6 981.9H410.8M402.6 1023.9H410.8" stroke="#9a1535" stroke-width="1.4" fill="none"/>
<path d="M403.4 1003.8H410" stroke="#9a1535" stroke-width="1.6" fill="none"/>
<circle cx="406.7" cy="1003.8" r="1.7" fill="#b50d36"/>
<path d="M428.8 987.2V1028.1M424.7 987.2H432.9M424.7 1028.1H432.9" stroke="#9a1535" stroke-width="1.4" fill="none"/>
<path d="M425.5 1013.5H432.1" stroke="#9a1535" stroke-width="1.6" fill="none"/>
<circle cx="428.8" cy="1013.5" r="1.7" fill="#b50d36"/>
<path d="M450.8 1001.1V1035M446.7 1001.1H454.9M446.7 1035H454.9" stroke="#9a1535" stroke-width="1.4" fill="none"/>
<path d="M447.5 1023.7H454.1" stroke="#9a1535" stroke-width="1.6" fill="none"/>
<circle cx="450.8" cy="1023.7" r="1.7" fill="#b50d36"/>
<path d="M494.6 1011.5V1020.5M490.5 1011.5H498.7M490.5 1020.5H498.7" stroke="#9a1535" stroke-width="1.4" fill="none"/>
<path d="M491.3 1016.1H497.9" stroke="#9a1535" stroke-width="1.6" fill="none"/>
<circle cx="494.6" cy="1016.1" r="1.7" fill="#b50d36"/>
</g>
<rect x="0.5" y="0.5" width="519" height="1105" fill="none" stroke="#2b2b2b" stroke-width="1"/>
</svg></body></html>
